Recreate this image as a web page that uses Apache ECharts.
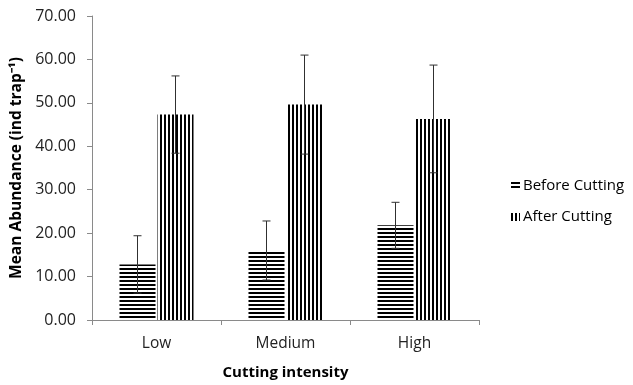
<!DOCTYPE html>
<html>
<head>
<meta charset="utf-8">
<script src="https://cdn.jsdelivr.net/npm/echarts@6/dist/echarts.min.js"></script>
<style>html,body{margin:0;padding:0;background:#fff}#c{width:633px;height:385px}</style>
</head>
<body>
<div id="c"></div>
<script>
var categories = ['Low', 'Medium', 'High'];
var seriesNames = ['Before Cutting', 'After Cutting'];
var beforeValues = [12.8, 16.0, 21.8];
var beforeErrors = [6.6, 6.8, 5.3];
var afterValues = [47.3, 49.6, 46.3];
var afterErrors = [8.9, 11.4, 12.4];
var yTicks = [0, 10, 20, 30, 40, 50, 60, 70];

function stripes(horizontal) {
  var c = document.createElement('canvas');
  c.width = 4; c.height = 4;
  var g = c.getContext('2d');
  g.fillStyle = '#fff'; g.fillRect(0, 0, 4, 4);
  g.fillStyle = '#000';
  if (horizontal) g.fillRect(0, 0, 4, 2); else g.fillRect(0, 0, 2, 4);
  return c;
}
var FONT = '"Open Sans", sans-serif';
var BAR_W = 36, BAR_GAP = 2;
var chart = echarts.init(document.getElementById('c'), null, {renderer: 'canvas'});

function errSeries(vals, errs, sign) {
  return {
    type: 'custom',
    silent: true,
    z: 10,
    data: vals.map(function (v, i) { return [i, v, errs[i]]; }),
    renderItem: function (params, api) {
      var i = api.value(0), v = api.value(1), e = api.value(2);
      var off = sign * (BAR_W / 2 + BAR_GAP / 2);
      var top = api.coord([i, v + e]);
      var bot = api.coord([i, v - e]);
      var x = top[0] + off;
      var hw = 4;
      var st = {stroke: '#303030', lineWidth: 1};
      return {type: 'group', children: [
        {type: 'line', shape: {x1: x, y1: top[1], x2: x, y2: bot[1]}, style: st},
        {type: 'line', shape: {x1: x - hw, y1: top[1], x2: x + hw, y2: top[1]}, style: st},
        {type: 'line', shape: {x1: x - hw, y1: bot[1], x2: x + hw, y2: bot[1]}, style: st}
      ]};
    }
  };
}

chart.setOption({
  animation: false,
  backgroundColor: '#fff',
  grid: {left: 92, right: 154, top: 16, bottom: 64.5},
  legend: {
    orient: 'vertical',
    left: 506, top: 173,
    itemWidth: 9, itemHeight: 8, itemGap: 15,
    icon: 'rect',
    textStyle: {fontFamily: FONT, fontSize: 15, color: '#000', lineHeight: 16, padding: [0, 0, 0, -2]},
    data: seriesNames
  },
  xAxis: {
    type: 'category',
    data: categories,
    name: 'Cutting intensity',
    nameLocation: 'middle',
    nameGap: 45,
    nameTextStyle: {fontFamily: FONT, fontSize: 15, fontWeight: 'bold', color: '#000'},
    axisLine: {lineStyle: {color: '#8a8a8a', width: 1}},
    axisTick: {show: true, length: 5, lineStyle: {color: '#8a8a8a'}},
    axisLabel: {fontFamily: FONT, fontSize: 15.5, color: '#222', margin: 16}
  },
  yAxis: {
    type: 'value',
    min: yTicks[0], max: yTicks[yTicks.length - 1], interval: 10,
    name: 'Mean Abundance (ind trap\u207B\u00B9)',
    nameLocation: 'middle',
    nameGap: 66,
    nameTextStyle: {fontFamily: FONT, fontSize: 15.5, fontWeight: 'bold', color: '#000'},
    axisLine: {show: true, lineStyle: {color: '#8a8a8a', width: 1}},
    axisTick: {show: true, length: 5, lineStyle: {color: '#8a8a8a'}},
    splitLine: {show: false},
    axisLabel: {fontFamily: FONT, fontSize: 16, color: '#222', margin: 16,
      formatter: function (v) { return v.toFixed(2); }}
  },
  series: [
    {name: seriesNames[0], type: 'bar', data: beforeValues, barWidth: BAR_W, barGap: (BAR_GAP / BAR_W * 100) + '%',
     itemStyle: {color: {image: stripes(true), repeat: 'repeat'}}},
    {name: seriesNames[1], type: 'bar', data: afterValues, barWidth: BAR_W,
     itemStyle: {color: {image: stripes(false), repeat: 'repeat'}}},
    errSeries(beforeValues, beforeErrors, -1),
    errSeries(afterValues, afterErrors, 1)
  ]
});
</script>
</body>
</html>
